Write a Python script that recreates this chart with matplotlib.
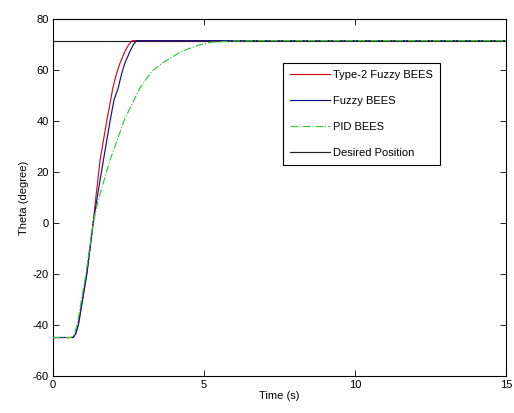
import matplotlib
matplotlib.use("Agg")
import matplotlib.pyplot as plt

plt.rcParams['font.family'] = ['Liberation Sans', 'DejaVu Sans']
plt.rcParams['axes.unicode_minus'] = False

# Data
t_type2 = [0, 0.67, 0.75, 0.84, 1.12, 1.33, 1.41, 1.56, 1.78, 1.91, 1.98, 2.1, 2.22, 2.38, 2.5, 2.62, 15]
y_type2 = [-45, -45, -43.5, -40, -20, 0, 9, 24.7, 40, 48.3, 53, 58.5, 62.8, 67.4, 69.9, 71.6, 71.6]

t_fuzzy = [0, 0.67, 0.75, 0.84, 1.12, 1.33, 1.45, 1.67, 1.89, 2.02, 2.16, 2.27, 2.38, 2.55, 2.66, 2.76, 15]
y_fuzzy = [-45, -45, -43.5, -40, -20, 0, 9, 24.7, 40, 48.3, 53, 58.5, 62.8, 67.4, 70.0, 71.6, 71.6]

t_pid = [0, 0.6, 0.7, 0.8, 1.09, 1.33, 1.5, 1.89, 2.38, 2.88, 3.27, 3.71, 4.26, 4.81, 5.25, 6.0, 7.0, 15]
y_pid = [-45, -45, -43.8, -40, -20, 0, 9, 24.7, 41, 53, 59.6, 63.5, 67.4, 69.8, 71.0, 71.5, 71.6, 71.6]

t_desired = [0, 15]
y_desired = [71.6, 71.6]

labels = ['Type-2 Fuzzy BEES', 'Fuzzy BEES', 'PID BEES', 'Desired Position']
x_ticks = [0, 5, 10, 15]
y_ticks = [-60, -40, -20, 0, 20, 40, 60, 80]

fig = plt.figure(figsize=(5.14, 4.13), dpi=100)
ax = fig.add_axes([0.1031, 0.0903, 0.8813, 0.863])

ax.plot(t_type2, y_type2, color='#d01010', lw=0.85, label=labels[0], zorder=3)
ax.plot(t_fuzzy, y_fuzzy, color='#10108c', lw=0.85, label=labels[1], zorder=4)
ax.plot(t_pid, y_pid, color='#33cc33', lw=0.85, ls='-.', label=labels[2], zorder=5)
ax.plot(t_desired, y_desired, color='#222222', lw=0.85, label=labels[3], zorder=2)

ax.set_xlim(0, 15)
ax.set_ylim(-60, 80)
ax.set_xticks(x_ticks)
ax.set_yticks(y_ticks)
ax.tick_params(direction='in', top=True, right=True, labelsize=8, length=4, width=0.6, pad=3)
for s in ax.spines.values():
    s.set_linewidth(0.8)
ax.set_xlabel('Time (s)', fontsize=8, labelpad=1)
ax.set_ylabel('Theta (degree)', fontsize=8, labelpad=3)

leg = ax.legend(loc='upper left', bbox_to_anchor=(0.508, 0.877), borderaxespad=0,
                fontsize=8, handlelength=3.6, labelspacing=1.45, handletextpad=0.3,
                fancybox=False, framealpha=1, edgecolor='black', borderpad=0.6)
leg.get_frame().set_linewidth(0.8)

fig.savefig('out.png', dpi=100)
